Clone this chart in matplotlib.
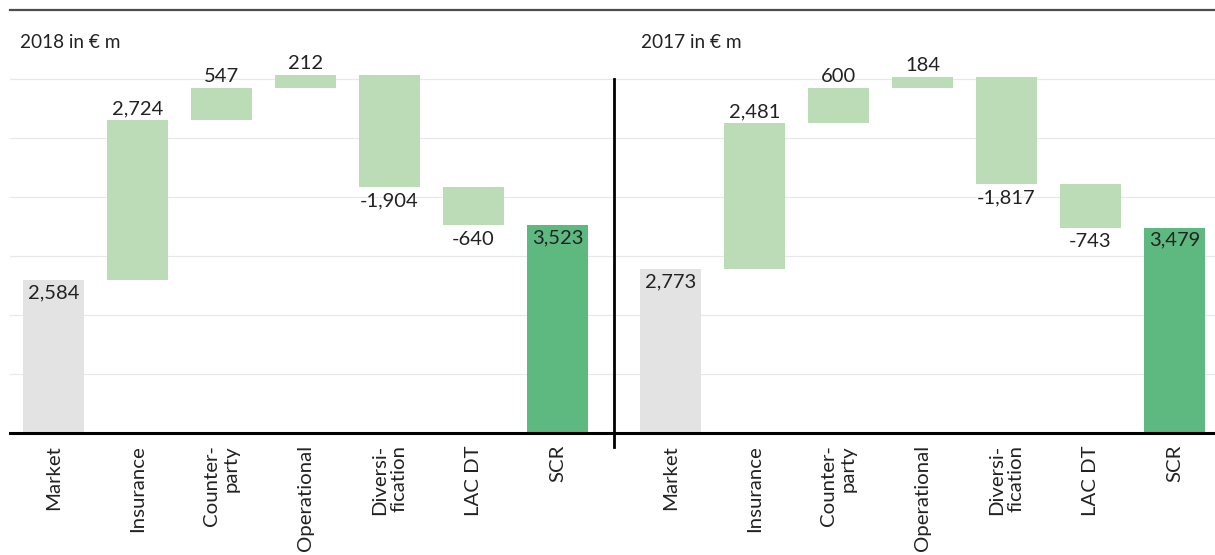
#!/usr/bin/env python
# Solvency capital requirement waterfall, 2018 vs 2017 (in EUR m)

import numpy as np
import matplotlib as mpl
mpl.use('Agg')
import matplotlib.pyplot as plt
from matplotlib.lines import Line2D

categories = ['Market', 'Insurance', 'Counter-\nparty', 'Operational',
              'Diversi-\nfication', 'LAC DT', 'SCR']
values_2018 = [2584, 2724, 547, 212, -1904, -640, 3523]
values_2017 = [2773, 2481, 600, 184, -1817, -743, 3479]
titles = ['2018 in € m', '2017 in € m']

plt.rcParams['font.family'] = ['Lato', 'DejaVu Sans']

c_start = '#e3e3e3'
c_step = '#bcdcb8'
c_total = '#5db97f'
c_text = '#222222'
c_grid = '#e8e8e8'

W, H = 1215, 555
fig = plt.figure(figsize=(W / 100, H / 100), dpi=100)

scale = 58.9 / 1000      # pixels per EUR m
ymax = 7000
y0 = 432.5               # pixel row of the zero line
step = 84.0              # pixels between categories


def add_panel(x0, x1, centre0):
    ax = fig.add_axes([x0 / W, (H - y0) / H, (x1 - x0) / W, ymax * scale / H])
    ax.set_xlim((x0 - centre0) / step, (x1 - centre0) / step)
    ax.set_ylim(0, ymax)
    return ax


ax1 = add_panel(10, 614, 53.5)
ax2 = add_panel(614, 1215, 670.5)


def waterfall(ax, vals):
    n = len(vals)
    x = np.arange(n)
    bottoms, heights, colors = [], [], []
    cum = 0
    for i, v in enumerate(vals):
        if i == 0:
            bottoms.append(0); heights.append(v); colors.append(c_start)
            cum = v
        elif i == n - 1:
            bottoms.append(0); heights.append(v); colors.append(c_total)
        else:
            bottoms.append(cum); heights.append(v); colors.append(c_step)
            cum += v
    ax.bar(x, heights, bottom=bottoms, width=61 / step, color=colors, zorder=2)

    fs = 14.5
    for i, v in enumerate(vals):
        lab = f'{v:,}'
        if i == 0 or i == n - 1:
            ax.annotate(lab, (x[i], v), xytext=(0, -3), textcoords='offset points',
                        ha='center', va='top', fontsize=fs, color=c_text, zorder=3)
        elif v > 0:
            ax.annotate(lab, (x[i], bottoms[i] + v), xytext=(0, 2),
                        textcoords='offset points', ha='center', va='bottom',
                        fontsize=fs, color=c_text, zorder=3)
        else:
            ax.annotate(lab, (x[i], bottoms[i] + v), xytext=(0, -4),
                        textcoords='offset points', ha='center', va='top',
                        fontsize=fs, color=c_text, zorder=3)

    ax.set_yticks(np.arange(1000, 7000, 1000))
    ax.yaxis.grid(True, color=c_grid, lw=0.9, zorder=0)
    ax.tick_params(axis='y', length=0, labelleft=False)
    ax.set_xticks(x)
    ax.set_xticklabels(categories, rotation=90, fontsize=14.7, color=c_text)
    for lbl in ax.get_xticklabels():
        lbl.set_multialignment('right')
    ax.tick_params(axis='x', length=0, pad=9)
    for s in ['top', 'left', 'right']:
        ax.spines[s].set_visible(False)
    ax.spines['bottom'].set_linewidth(2.2)
    ax.spines['bottom'].set_color('black')
    ax.set_axisbelow(True)
    ax.patch.set_alpha(0)


waterfall(ax1, values_2018)
waterfall(ax2, values_2017)

# divider between the two years
xl = ax2.get_xlim()[0]
ax2.plot([xl, xl], [-243, 6000], color='black', lw=2, clip_on=False, zorder=4)

# rule along the top
fig.add_artist(Line2D([10 / W, 1.0], [1 - 10 / H, 1 - 10 / H], color='#4d4d4d', lw=1.6))

fig.text(20 / W, 1 - 48 / H, titles[0], fontsize=13.7, color=c_text, va='baseline')
fig.text(641 / W, 1 - 48 / H, titles[1], fontsize=13.7, color=c_text, va='baseline')

fig.savefig('out.png', dpi=100)
